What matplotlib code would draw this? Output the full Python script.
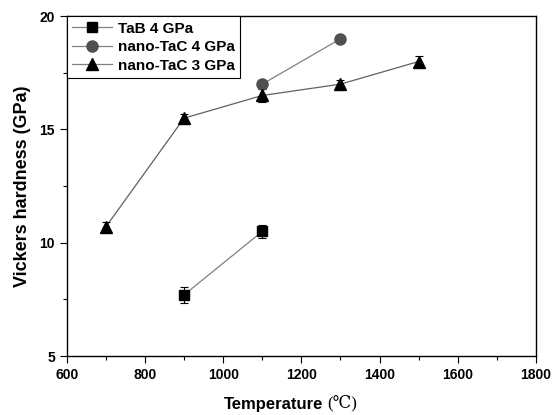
import numpy as np
import matplotlib.pyplot as plt
from matplotlib.ticker import MultipleLocator

# ============================================================
# DATA
# ============================================================

tab_temp = [900, 1100]
tab_hv = [7.7, 10.5]
tab_err = [0.35, 0.3]

tac4_temp = [1100, 1300]
tac4_hv = [17.0, 19.0]

tac3_temp = [700, 900, 1100, 1300, 1500]
tac3_hv = [10.7, 15.5, 16.5, 17.0, 18.0]
tac3_err = [0.2, 0.2, 0.3, 0.2, 0.25]

# ============================================================
# PLOT
# ============================================================

plt.rcParams['font.family'] = ['Liberation Sans', 'DejaVu Sans']

fig = plt.figure(figsize=(5.56, 4.15), dpi=100)
ax = fig.add_axes([0.12, 0.142, 0.844, 0.819])

line_col = '#808080'

ax.plot(tab_temp, tab_hv, color=line_col, lw=0.9, zorder=1)
ax.errorbar(tab_temp, tab_hv, yerr=tab_err, fmt='none',
            ecolor='black', elinewidth=0.8, capsize=3, capthick=0.8, zorder=2)
ax.plot(tab_temp, tab_hv, 's', color='black', ms=7.5, zorder=3)

ax.plot(tac4_temp, tac4_hv, color=line_col, lw=0.9, zorder=1)
ax.plot(tac4_temp, tac4_hv, 'o', color='#505050', ms=8, zorder=3)

ax.plot(tac3_temp, tac3_hv, color='#606060', lw=0.9, zorder=1)
ax.errorbar(tac3_temp, tac3_hv, yerr=tac3_err, fmt='none',
            ecolor='black', elinewidth=0.8, capsize=3, capthick=0.8, zorder=2)
ax.plot(tac3_temp, tac3_hv, '^', color='black', ms=8.5, zorder=4)

# legend proxies
h1, = ax.plot([], [], 's-', color=line_col, mfc='black', mec='black', ms=7.5, lw=0.9)
h2, = ax.plot([], [], 'o-', color=line_col, mfc='#505050', mec='#505050', ms=8, lw=0.9)
h3, = ax.plot([], [], '^-', color=line_col, mfc='black', mec='black', ms=8.5, lw=0.9)

leg = ax.legend([h1, h2, h3], ['TaB 4 GPa', 'nano-TaC 4 GPa', 'nano-TaC 3 GPa'],
                loc='upper left', fancybox=False, edgecolor='black',
                framealpha=1, borderaxespad=0, handlelength=2.6,
                handletextpad=0.4, labelspacing=0.3, borderpad=0.35,
                prop={'weight': 'bold', 'size': 11})
leg.get_frame().set_linewidth(0.8)

# ============================================================
# AXES
# ============================================================

ax.set_xlim(600, 1800)
ax.set_ylim(5, 20)

ax.xaxis.set_major_locator(MultipleLocator(200))
ax.xaxis.set_minor_locator(MultipleLocator(100))
ax.yaxis.set_major_locator(MultipleLocator(5))
ax.yaxis.set_minor_locator(MultipleLocator(2.5))

ax.tick_params(which='both', direction='out', top=False, right=False, width=0.8)
ax.tick_params(which='major', length=5)
ax.tick_params(which='minor', length=3)

for lab in ax.get_xticklabels() + ax.get_yticklabels():
    lab.set_fontweight('bold')
    lab.set_fontsize(10)

for sp in ax.spines.values():
    sp.set_linewidth(1.0)

ax.set_ylabel("Vickers hardness (GPa)", fontsize=13, fontweight='bold')
ax.yaxis.set_label_coords(-0.077, 0.5)

xl = ax.set_xlabel("Temperature", fontsize=12, fontweight='bold')
ax.xaxis.set_label_coords(0.44, -0.12)
ax.annotate("(\u2103)", xy=(1, 0), xycoords=xl, xytext=(3, 0),
            textcoords='offset points', ha='left', va='bottom',
            fontsize=12, family=['Liberation Serif', 'DejaVu Serif'])

fig.savefig("out.png", dpi=100)
